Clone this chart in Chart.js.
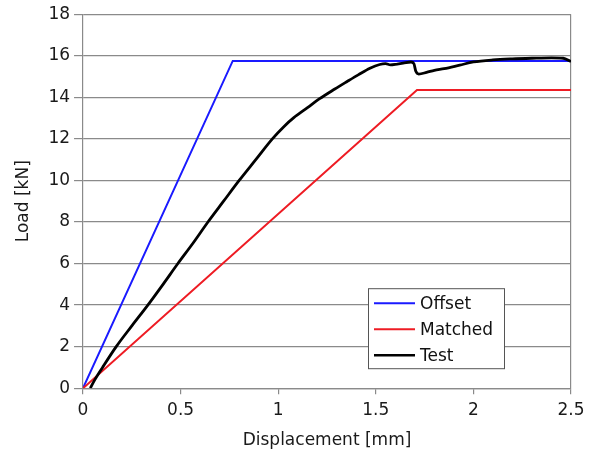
<!DOCTYPE html>
<html>
<head>
<meta charset="utf-8">
<title>Load vs displacement</title>
<script src="https://cdn.jsdelivr.net/npm/chart.js@4.4.1/dist/chart.umd.min.js"></script>
<style>
  html, body { margin: 0; padding: 0; background: #ffffff; }
  #wrap { width: 592px; height: 457px; }
</style>
</head>
<body>
<div id="wrap"><canvas id="loadChart" width="592" height="457"></canvas></div>
<script>
// ─── Data (displacement in mm, load in kN) ───
const offsetX  = [0, 0.767, 2.5];
const offsetY  = [0, 15.75, 15.75];
const matchedX = [0, 1.711, 2.5];
const matchedY = [0, 14.35, 14.35];
const testX = [0.037, 0.06, 0.1, 0.17, 0.25, 0.332, 0.41,
               0.486, 0.565, 0.64, 0.72, 0.80, 0.885, 0.97, 1.03, 1.08, 1.15,
               1.21, 1.29, 1.353, 1.41, 1.47, 1.52, 1.55, 1.575, 1.61, 1.64,
               1.68, 1.695, 1.705, 1.72, 1.76, 1.8, 1.85, 1.93, 2.0, 2.1,
               2.2, 2.3, 2.4, 2.46, 2.5];
const testY = [0, 0.4, 1.0, 2, 3, 4, 5,
               6, 7, 8, 9, 10, 11, 12, 12.6, 13.02, 13.5,
               13.92, 14.4, 14.76, 15.08, 15.4, 15.58, 15.62, 15.56, 15.6, 15.64,
               15.7, 15.62, 15.25, 15.12, 15.2, 15.3, 15.38, 15.55, 15.7, 15.8,
               15.85, 15.88, 15.9, 15.88, 15.72];

const seriesLabels = ['Offset', 'Matched', 'Test'];
const seriesColors = ['#1a1aff', '#ee1c24', '#000000'];

const xMin = 0, xMax = 2.5, xStep = 0.5;
const yMin = 0, yMax = 18, yStep = 2;

const FONT = "'DejaVu Sans', sans-serif";
const GRID = '#8a8a8a';

const toPoints = (xs, ys) => xs.map((x, i) => ({ x, y: ys[i] }));

// ─── Boxed legend inside the plot, lower right ───
const boxLegend = {
    id: 'boxLegend',
    afterDraw(chart) {
        const { ctx, chartArea } = chart;
        const w = 136, h = 80;
        const left = chartArea.right - 67 - w;
        const top = chartArea.bottom - 20 - h;
        ctx.save();
        ctx.fillStyle = '#ffffff';
        ctx.fillRect(left, top, w, h);
        ctx.strokeStyle = '#555555';
        ctx.lineWidth = 1;
        ctx.strokeRect(left + 0.5, top + 0.5, w, h);
        ctx.font = '17px ' + FONT;
        ctx.textBaseline = 'middle';
        const rows = [15, 41, 67];
        chart.data.datasets.forEach((ds, i) => {
            const yy = top + rows[i];
            ctx.strokeStyle = ds.borderColor;
            ctx.lineWidth = i === 2 ? 2.5 : 2;
            ctx.beginPath();
            ctx.moveTo(left + 6, yy);
            ctx.lineTo(left + 47, yy);
            ctx.stroke();
            ctx.fillStyle = '#111111';
            ctx.fillText(ds.label, left + 52, yy + 1);
        });
        ctx.restore();
    }
};

new Chart(document.getElementById('loadChart'), {
    type: 'line',
    data: {
        datasets: [
            { label: seriesLabels[0], data: toPoints(offsetX, offsetY),
              borderColor: seriesColors[0], borderWidth: 2, order: 2 },
            { label: seriesLabels[1], data: toPoints(matchedX, matchedY),
              borderColor: seriesColors[1], borderWidth: 2, order: 1 },
            { label: seriesLabels[2], data: toPoints(testX, testY),
              borderColor: seriesColors[2], borderWidth: 2.8, order: 0,
              cubicInterpolationMode: 'monotone' }
        ]
    },
    options: {
        responsive: false,
        animation: false,
        devicePixelRatio: 1,
        elements: {
            point: { radius: 0, hoverRadius: 0 },
            line: { tension: 0, fill: false }
        },
        layout: { padding: { top: 14, right: 21, bottom: 6, left: 13 } },
        plugins: {
            legend: { display: false },
            tooltip: { enabled: false }
        },
        scales: {
            x: {
                type: 'linear',
                min: xMin, max: xMax,
                border: { display: true, color: GRID, width: 1.2 },
                grid: {
                    drawOnChartArea: true,
                    color: c => (c.tick && c.tick.value === xMax ? GRID : 'rgba(0,0,0,0)'),
                    tickColor: GRID,
                    tickLength: 6,
                    lineWidth: 1.2
                },
                ticks: {
                    stepSize: xStep,
                    color: '#1a1a1a',
                    font: { family: FONT, size: 17 },
                    padding: 6,
                    maxRotation: 0,
                    callback: v => String(v)
                },
                title: {
                    display: true,
                    text: 'Displacement [mm]',
                    color: '#1a1a1a',
                    font: { family: FONT, size: 17 },
                    padding: { top: 4, bottom: 0 }
                }
            },
            y: {
                min: yMin, max: yMax,
                border: { display: true, color: GRID, width: 1.2 },
                grid: {
                    color: GRID,
                    tickColor: GRID,
                    tickLength: 9,
                    lineWidth: 1.2
                },
                ticks: {
                    stepSize: yStep,
                    color: '#1a1a1a',
                    font: { family: FONT, size: 17 },
                    padding: 4
                },
                title: {
                    display: true,
                    text: 'Load [kN]',
                    color: '#1a1a1a',
                    font: { family: FONT, size: 17 },
                    padding: { top: 0, bottom: 11 }
                }
            }
        }
    },
    plugins: [boxLegend]
});
</script>
</body>
</html>
